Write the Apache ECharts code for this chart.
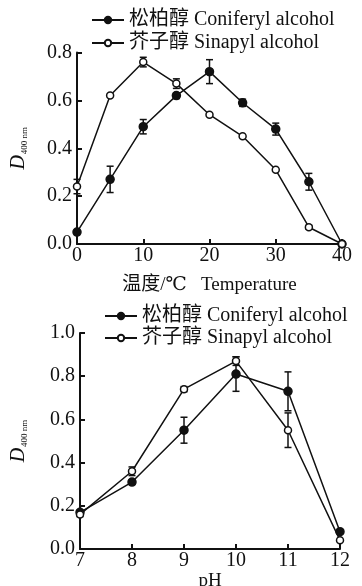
<!DOCTYPE html>
<html>
<head>
<meta charset="utf-8">
<script src="https://cdn.jsdelivr.net/npm/echarts@6/dist/echarts.min.js"></script>
<style>
  html, body { margin: 0; padding: 0; background: #fff; }
  #chart { width: 362px; height: 586px; }
</style>
</head>
<body>
<div id="chart"></div>
<script>
// Temperature panel
const tempX = [0, 5, 10, 15, 20, 25, 30, 35, 40];
const tempConiferyl = [0.05, 0.27, 0.49, 0.62, 0.72, 0.59, 0.48, 0.26, 0.0];
const tempConiferylErr = [0.0, 0.055, 0.03, 0.012, 0.05, 0.015, 0.025, 0.035, 0.0];
const tempSinapyl = [0.24, 0.62, 0.76, 0.67, 0.54, 0.45, 0.31, 0.07, 0.0];
const tempSinapylErr = [0.03, 0.0, 0.02, 0.02, 0.0, 0.0, 0.0, 0.008, 0.0];
const tempXTicks = [0, 10, 20, 30, 40];
const tempYTicks = [0.0, 0.2, 0.4, 0.6, 0.8];

// pH panel
const phX = [7, 8, 9, 10, 11, 12];
const phConiferyl = [0.17, 0.31, 0.55, 0.81, 0.73, 0.08];
const phConiferylErr = [0.01, 0.01, 0.06, 0.08, 0.09, 0.0];
const phSinapyl = [0.16, 0.36, 0.74, 0.87, 0.55, 0.04];
const phSinapylErr = [0.01, 0.02, 0.012, 0.02, 0.08, 0.0];
const phXTicks = [7, 8, 9, 10, 11, 12];
const phYTicks = [0.0, 0.2, 0.4, 0.6, 0.8, 1.0];

const nameC = '松柏醇 Coniferyl alcohol';
const nameS = '芥子醇 Sinapyl alcohol';

const SERIF = '"Liberation Serif", "DejaVu Serif", "Noto Sans CJK SC", serif';
const INK = '#111';

function pairs(xs, ys) { return xs.map((x, i) => [x, ys[i]]); }
function triples(xs, ys, es) { return xs.map((x, i) => [x, ys[i], es[i]]); }

function errorBars(xs, ys, es, axisIdx) {
  return {
    type: 'custom',
    xAxisIndex: axisIdx,
    yAxisIndex: axisIdx,
    z: 1,
    silent: true,
    data: triples(xs, ys, es),
    renderItem: function (params, api) {
      const x = api.value(0), y = api.value(1), e = api.value(2);
      if (!e) return null;
      const hi = api.coord([x, y + e]);
      const lo = api.coord([x, y - e]);
      const w = 3.5;
      const st = { stroke: INK, lineWidth: 1.5 };
      return {
        type: 'group',
        children: [
          { type: 'line', shape: { x1: hi[0], y1: hi[1], x2: lo[0], y2: lo[1] }, style: st },
          { type: 'line', shape: { x1: hi[0] - w, y1: hi[1], x2: hi[0] + w, y2: hi[1] }, style: st },
          { type: 'line', shape: { x1: lo[0] - w, y1: lo[1], x2: lo[0] + w, y2: lo[1] }, style: st }
        ]
      };
    }
  };
}

function lineSeries(name, xs, ys, axisIdx, filled) {
  return {
    type: 'line',
    name: name,
    xAxisIndex: axisIdx,
    yAxisIndex: axisIdx,
    z: 3,
    data: pairs(xs, ys),
    symbol: 'circle',
    symbolSize: filled ? 8 : 7,
    showAllSymbol: true,
    lineStyle: { color: INK, width: 1.5 },
    itemStyle: { color: filled ? INK : '#fff', borderColor: INK, borderWidth: 1.5 },
    emphasis: { disabled: true },
    animation: false
  };
}

function axisCommon() {
  return {
    axisLine: { show: true, onZero: false, lineStyle: { color: INK, width: 2 } },
    axisTick: { show: true, inside: true, length: 5, lineStyle: { color: INK, width: 2 } },
    splitLine: { show: false },
    axisLabel: { color: INK, fontFamily: SERIF, fontSize: 20 }
  };
}

const yName = '{d|D}{s|400 nm}';
const yRich = {
  d: { fontFamily: SERIF, fontStyle: 'italic', fontSize: 20, color: INK },
  s: { fontFamily: SERIF, fontSize: 9, color: INK, verticalAlign: 'bottom', padding: [0, 0, 0, 1] }
};

const legendText = { fontFamily: SERIF, fontSize: 20, color: INK };

const option = {
  backgroundColor: '#fff',
  animation: false,
  grid: [
    { left: 77, right: 20, top: 52.5, height: 191.5, containLabel: false, outerBoundsMode: 'none' },
    { left: 80, right: 22, top: 333, height: 216, containLabel: false, outerBoundsMode: 'none' }
  ],
  legend: [
    {
      orient: 'vertical', left: 86, top: 5, itemGap: 3,
      itemWidth: 32, itemHeight: 8,
      data: [nameC, nameS],
      textStyle: legendText,
      selectedMode: false
    },
    {
      orient: 'vertical', left: 99, top: 301, itemGap: 2,
      itemWidth: 32, itemHeight: 8,
      data: [nameC, nameS],
      textStyle: legendText,
      selectedMode: false
    }
  ],
  xAxis: [
    Object.assign(axisCommon(), {
      type: 'value', gridIndex: 0,
      min: tempXTicks[0], max: tempXTicks[tempXTicks.length - 1], interval: 10,
      name: '温度/℃   Temperature', nameLocation: 'middle', nameGap: 32,
      nameTextStyle: { fontFamily: SERIF, fontSize: 19, color: INK }
    }),
    Object.assign(axisCommon(), {
      type: 'value', gridIndex: 1,
      min: phXTicks[0], max: phXTicks[phXTicks.length - 1], interval: 1,
      name: 'pH', nameLocation: 'middle', nameGap: 13,
      nameTextStyle: { fontFamily: SERIF, fontSize: 19, color: INK }
    })
  ],
  yAxis: [
    Object.assign(axisCommon(), {
      type: 'value', gridIndex: 0,
      min: tempYTicks[0], max: tempYTicks[tempYTicks.length - 1], interval: 0.2,
      name: yName, nameLocation: 'middle', nameGap: 48, nameRotate: 90,
      nameTextStyle: { rich: yRich }
    }),
    Object.assign(axisCommon(), {
      type: 'value', gridIndex: 1,
      min: phYTicks[0], max: phYTicks[phYTicks.length - 1], interval: 0.2,
      name: yName, nameLocation: 'middle', nameGap: 51, nameRotate: 90,
      nameTextStyle: { rich: yRich }
    })
  ],
  series: [
    errorBars(tempX, tempConiferyl, tempConiferylErr, 0),
    errorBars(tempX, tempSinapyl, tempSinapylErr, 0),
    lineSeries(nameC, tempX, tempConiferyl, 0, true),
    lineSeries(nameS, tempX, tempSinapyl, 0, false),
    errorBars(phX, phConiferyl, phConiferylErr, 1),
    errorBars(phX, phSinapyl, phSinapylErr, 1),
    lineSeries(nameC, phX, phConiferyl, 1, true),
    lineSeries(nameS, phX, phSinapyl, 1, false)
  ]
};

// one-decimal tick labels on the value axes
option.yAxis.forEach(a => { a.axisLabel.formatter = v => v.toFixed(1); a.axisLabel.margin = 5; });
option.xAxis.forEach(a => { a.axisLabel.margin = 2; });

const chart = echarts.init(document.getElementById('chart'), null, { renderer: 'canvas' });
chart.setOption(option);
</script>
</body>
</html>
